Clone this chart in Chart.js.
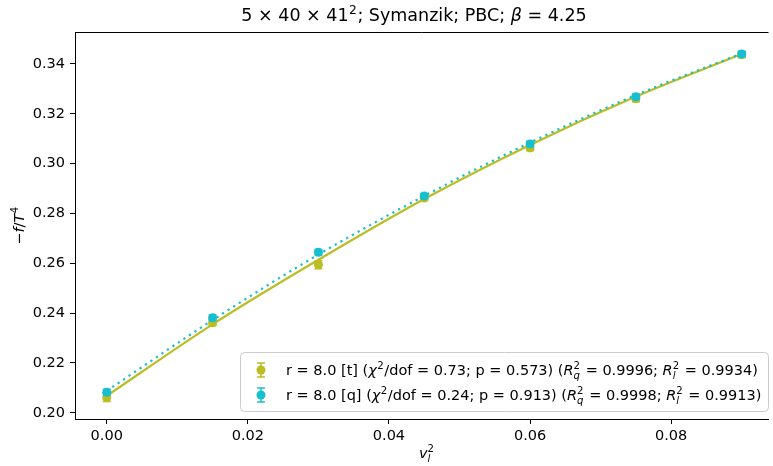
<!DOCTYPE html>
<html>
<head>
<meta charset="utf-8">
<script src="https://cdn.jsdelivr.net/npm/chart.js@4.4.1/dist/chart.umd.min.js"></script>
<style>body{margin:0;background:#fff}</style>
</head>
<body>
<canvas id="chart" width="773" height="466"></canvas>
<script>
// values
var xs    = [0, 0.015, 0.03, 0.045, 0.06, 0.075, 0.09];
var tVals = [0.2060, 0.2361, 0.2594, 0.2862, 0.3063, 0.3260, 0.3437];
var tErr  = [0.0015, 0.0012, 0.0016, 0.0010, 0.0012, 0.0012, 0.0012];
var qVals = [0.2082, 0.2381, 0.2644, 0.2870, 0.3079, 0.3268, 0.3440];
var qErr  = [0.0012, 0.0011, 0.0011, 0.0010, 0.0011, 0.0011, 0.0011];
var tFit  = [0.2068, 0.2355, 0.2614, 0.2858, 0.3075, 0.3269, 0.3440];
var qFit  = [0.2088, 0.2372, 0.2635, 0.2870, 0.3084, 0.3275, 0.3442];
var xTicks = [0, 0.02, 0.04, 0.06, 0.08];
var yTicks = [0.20, 0.22, 0.24, 0.26, 0.28, 0.30, 0.32, 0.34];

var OLIVE = '#bcbd22', CYAN = '#17becf';
var FONT = '"DejaVu Sans", sans-serif';
var FS = 14.5; // labels, ticks, legend

function pts(vals) {
  return xs.map(function(x, i) { return {x: x, y: vals[i]}; });
}

// draw text made of pieces: plain, italic, superscript or stacked sup/sub
function rich(ctx, parts, x, y, size, align) {
  function w(p) {
    if (p.stack) {
      ctx.font = (size * 0.7) + 'px ' + FONT;
      var a = ctx.measureText(p.stack[0]).width;
      ctx.font = 'italic ' + (size * 0.7) + 'px ' + FONT;
      return Math.max(a, ctx.measureText(p.stack[1]).width) + 1;
    }
    if (p.sup) { ctx.font = (size * 0.7) + 'px ' + FONT; return ctx.measureText(p.sup).width + 1; }
    ctx.font = (p.it ? 'italic ' : '') + size + 'px ' + FONT;
    return ctx.measureText(p.t).width;
  }
  var total = 0;
  parts.forEach(function(p) { total += w(p); });
  var cx = align === 'center' ? x - total / 2 : x;
  ctx.textBaseline = 'alphabetic';
  ctx.textAlign = 'left';
  parts.forEach(function(p) {
    var pw = w(p);
    if (p.stack) {
      ctx.font = (size * 0.7) + 'px ' + FONT;
      ctx.fillText(p.stack[0], cx, y - size * 0.42);
      ctx.font = 'italic ' + (size * 0.7) + 'px ' + FONT;
      ctx.fillText(p.stack[1], cx, y + size * 0.28);
    } else if (p.sup) {
      ctx.font = (size * 0.7) + 'px ' + FONT;
      ctx.fillText(p.sup, cx + 0.5, y - size * 0.42);
    } else {
      ctx.font = (p.it ? 'italic ' : '') + size + 'px ' + FONT;
      ctx.fillText(p.t, cx, y);
    }
    cx += pw;
  });
}

function errMarker(ctx, x, y, color) {
  ctx.strokeStyle = color; ctx.fillStyle = color; ctx.lineWidth = 1.5;
  ctx.beginPath();
  ctx.moveTo(x, y - 7); ctx.lineTo(x, y + 7);
  ctx.moveTo(x - 4, y - 7); ctx.lineTo(x + 4, y - 7);
  ctx.moveTo(x - 4, y + 7); ctx.lineTo(x + 4, y + 7);
  ctx.stroke();
  ctx.beginPath(); ctx.arc(x, y, 4.5, 0, Math.PI * 2); ctx.fill();
}

var decor = {
  id: 'decor',
  beforeDatasetDraw: function(chart, args) {
    var ds = chart.data.datasets[args.index];
    if (!ds.err) return;
    var ctx = chart.ctx, sx = chart.scales.x, sy = chart.scales.y;
    ctx.save();
    ctx.strokeStyle = ds.borderColor; ctx.lineWidth = 1.5;
    ds.data.forEach(function(p, i) {
      var px = sx.getPixelForValue(p.x);
      var y1 = sy.getPixelForValue(p.y - ds.err[i]);
      var y2 = sy.getPixelForValue(p.y + ds.err[i]);
      ctx.beginPath();
      ctx.moveTo(px, y1); ctx.lineTo(px, y2);
      ctx.moveTo(px - 4, y1); ctx.lineTo(px + 4, y1);
      ctx.moveTo(px - 4, y2); ctx.lineTo(px + 4, y2);
      ctx.stroke();
    });
    ctx.restore();
  },
  afterDraw: function(chart) {
    var ctx = chart.ctx, a = chart.chartArea;
    ctx.save();
    // top spine (right spine falls outside the picture)
    ctx.strokeStyle = '#000'; ctx.lineWidth = 1;
    ctx.beginPath(); ctx.moveTo(a.left, a.top + 0.5); ctx.lineTo(a.right, a.top + 0.5); ctx.stroke();

    ctx.fillStyle = '#000';
    rich(ctx, [{t: '5 × 40 × 41'}, {sup: '2'}, {t: '; Symanzik; PBC; '}, {t: 'β', it: true}, {t: ' = 4.25'}], 414, 21, 17.5, 'center');
    rich(ctx, [{t: 'v', it: true}, {stack: ['2', 'l']}], 427, 458, FS, 'center');

    ctx.save();
    ctx.translate(24, (a.top + a.bottom) / 2);
    ctx.rotate(-Math.PI / 2);
    ctx.fillStyle = '#000';
    rich(ctx, [{t: '−'}, {t: 'f', it: true}, {t: '/'}, {t: 'T', it: true}, {sup: '4'}], 0, 0, FS, 'center');
    ctx.restore();

    // legend
    var lx = 240, ly = 352, lw = 528, lh = 59;
    ctx.fillStyle = 'rgba(255,255,255,0.8)';
    ctx.strokeStyle = '#cccccc'; ctx.lineWidth = 1;
    ctx.beginPath(); ctx.roundRect(lx + 0.5, ly + 0.5, lw, lh, 4); ctx.fill(); ctx.stroke();

    errMarker(ctx, 261, 370, OLIVE);
    errMarker(ctx, 261, 395, CYAN);
    ctx.fillStyle = '#000';
    rich(ctx, [{t: 'r = 8.0 [t] ('}, {t: 'χ', it: true}, {sup: '2'}, {t: '/dof = 0.73; p = 0.573) ('},
               {t: 'R', it: true}, {stack: ['2', 'q']}, {t: ' = 0.9996; '},
               {t: 'R', it: true}, {stack: ['2', 'l']}, {t: ' = 0.9934)'}], 286, 375, FS);
    rich(ctx, [{t: 'r = 8.0 [q] ('}, {t: 'χ', it: true}, {sup: '2'}, {t: '/dof = 0.24; p = 0.913) ('},
               {t: 'R', it: true}, {stack: ['2', 'q']}, {t: ' = 0.9998; '},
               {t: 'R', it: true}, {stack: ['2', 'l']}, {t: ' = 0.9913)'}], 286, 400, FS);
    ctx.restore();
  }
};

new Chart(document.getElementById('chart'), {
  type: 'line',
  data: {
    datasets: [
      { label: 'q', data: pts(qVals), err: qErr, showLine: false, borderColor: CYAN, backgroundColor: CYAN,
        pointRadius: 4.5, pointBorderWidth: 0, order: 0 },
      { label: 'q fit', data: pts(qFit), borderColor: CYAN, borderWidth: 2.2, borderDash: [2.2, 4.4], borderCapStyle: 'butt',
        pointRadius: 0, cubicInterpolationMode: 'monotone', order: 1 },
      { label: 't', data: pts(tVals), err: tErr, showLine: false, borderColor: OLIVE, backgroundColor: OLIVE,
        pointRadius: 4.5, pointBorderWidth: 0, order: 2 },
      { label: 't fit', data: pts(tFit), borderColor: OLIVE, borderWidth: 2.2,
        pointRadius: 0, cubicInterpolationMode: 'monotone', order: 3 }
    ]
  },
  options: {
    responsive: false,
    animation: false,
    events: [],
    layout: { padding: { top: 32, right: 0, left: 0, bottom: 0 } },
    plugins: { legend: { display: false }, tooltip: { enabled: false } },
    scales: {
      x: {
        type: 'linear', min: -0.0045, max: 0.0938,
        afterFit: function(s) { s.height = 47; },
        afterBuildTicks: function(s) { s.ticks = xTicks.map(function(v) { return {value: v}; }); },
        grid: { drawOnChartArea: false, drawTicks: true, tickLength: 5, tickColor: '#000' },
        border: { color: '#000', width: 1 },
        ticks: { color: '#000', padding: 4, font: { family: FONT, size: FS },
                 callback: function(v) { return v.toFixed(2); } }
      },
      y: {
        type: 'linear', min: 0.1975, max: 0.3528,
        afterFit: function(s) { s.width = 75; },
        afterBuildTicks: function(s) { s.ticks = yTicks.map(function(v) { return {value: v}; }); },
        grid: { drawOnChartArea: false, drawTicks: true, tickLength: 5, tickColor: '#000' },
        border: { color: '#000', width: 1 },
        ticks: { color: '#000', padding: 5, font: { family: FONT, size: FS },
                 callback: function(v) { return v.toFixed(2); } }
      }
    }
  },
  plugins: [decor]
});
</script>
</body>
</html>
